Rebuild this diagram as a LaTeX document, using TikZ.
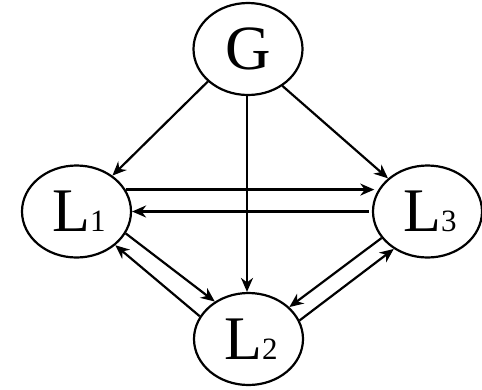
\documentclass[tikz,border=0pt]{standalone}
\usepackage{fontspec}
\setmainfont{Liberation Serif}
\usetikzlibrary{shapes.geometric,arrows.meta}
\newcommand{\lname}[1]{\fontsize{62}{62}\selectfont L{\fontsize{31}{31}\selectfont #1}}
\tikzset{
  agent/.style={ellipse, draw, line width=2.2pt, minimum width=109pt, minimum height=92pt,
                inner sep=0pt, font=\fontsize{63}{63}\selectfont},
  link/.style={line width=2.2pt, -{Stealth[length=14pt,width=12pt,inset=4.5pt]}},
}
\begin{document}
\begin{tikzpicture}[x=1pt,y=-1pt]
  \useasboundingbox (0,0) rectangle (482,389);
  % the four agents
  \node[agent] (G)  at (248,49)    {G};
  \node[agent] (L1) at (76.5,211.5) {\hspace{5pt}\lname{1}};
  \node[agent] (L3) at (427.5,211.5) {\hspace{5pt}\lname{3}};
  \node[agent] (L2) at (248.5,339)   {\hspace{5pt}\lname{2}};
  % links from the top agent
  \draw[link] (G.219) -- (L1.45);
  \draw[link] (G.313) -- (L3.140);
  \draw[link] ([xshift=-1pt]G.south) -- ([xshift=-1.5pt]L2.north);
  % horizontal pair between L1 and L3
  \draw[link, shorten >=4pt] (L1.24) -- (L3.156);
  \draw[link, shorten <=3pt] (L3.180) -- (L1.0);
  % pair between L1 and L2
  \draw[link] (L1.336) -- (L2.132);
  \draw[link] (L2.155) -- (L1.319);
  % pair between L3 and L2
  \draw[link] (L3.210) -- (L2.38);
  \draw[link] (L2.20) -- (L3.228);
\end{tikzpicture}
\end{document}
